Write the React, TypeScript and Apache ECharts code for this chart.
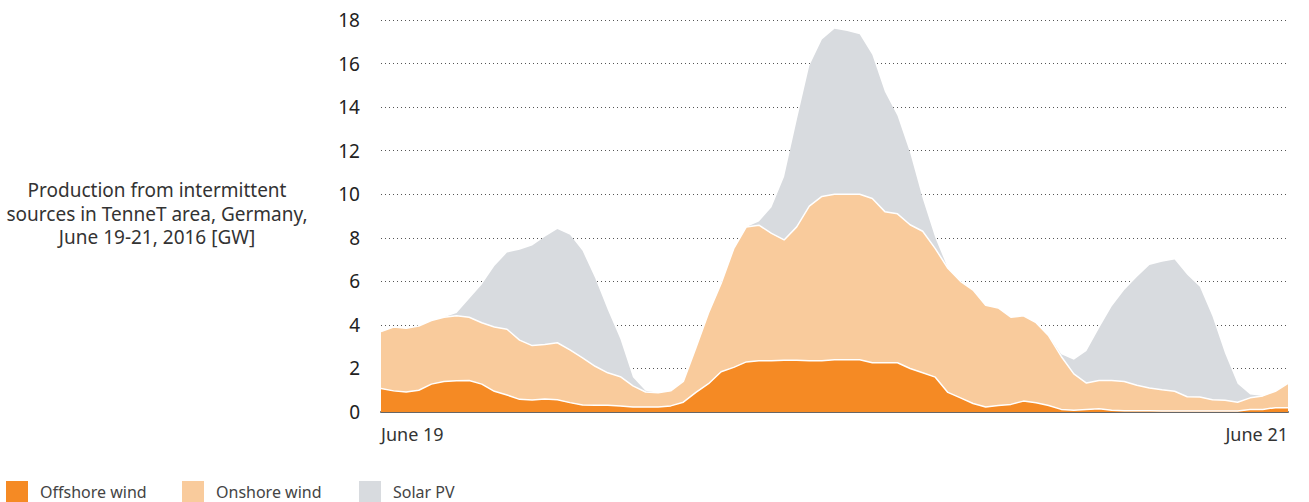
import React, { useEffect, useRef } from "react";
import * as echarts from "echarts";

// Hourly points, June 19 00:00 to June 21 24:00 (73 points)
const hours: string[] = Array.from({ length: 73 }, (_, i) => String(i));

const offshoreWind = [
  1.08, 0.97, 0.92, 1.0, 1.28, 1.4, 1.44, 1.45, 1.28, 0.95, 0.78, 0.58,
  0.55, 0.6, 0.56, 0.43, 0.32, 0.31, 0.31, 0.28, 0.23, 0.23, 0.23, 0.28,
  0.45, 0.9, 1.3, 1.85, 2.05, 2.3, 2.35, 2.35, 2.38, 2.38, 2.35, 2.35,
  2.4, 2.4, 2.4, 2.26, 2.26, 2.26, 2.0, 1.8, 1.6, 0.9, 0.65, 0.39,
  0.23, 0.3, 0.35, 0.5, 0.42, 0.3, 0.12, 0.08, 0.12, 0.15, 0.08, 0.06,
  0.06, 0.06, 0.05, 0.05, 0.05, 0.05, 0.05, 0.05, 0.05, 0.12, 0.12, 0.2,
  0.2,
];

const onshoreWind = [
  2.61, 2.93, 2.93, 2.95, 2.92, 2.95, 2.98, 2.9, 2.82, 2.95, 3.02, 2.72,
  2.5, 2.5, 2.62, 2.42, 2.16, 1.79, 1.49, 1.34, 0.97, 0.69, 0.65, 0.69,
  0.95, 2.05, 3.25, 4.05, 5.45, 6.2, 6.23, 5.85, 5.52, 6.12, 7.1, 7.55,
  7.6, 7.6, 7.6, 7.54, 6.94, 6.84, 6.6, 6.5, 5.9, 5.7, 5.35, 5.21,
  4.67, 4.48, 4.0, 3.92, 3.68, 3.2, 2.43, 1.67, 1.21, 1.3, 1.37, 1.34,
  1.17, 1.04, 0.97, 0.9, 0.65, 0.64, 0.51, 0.49, 0.4, 0.53, 0.62, 0.75,
  1.11,
];

const solarPV = [
  0, 0, 0, 0, 0, 0, 0.13, 0.85, 1.75, 2.8, 3.52, 4.15,
  4.6, 4.95, 5.22, 5.29, 4.92, 4.05, 2.9, 1.73, 0.4, 0.06, 0, 0,
  0, 0, 0, 0, 0, 0, 0.17, 1.2, 2.9, 4.9, 6.45, 7.2,
  7.6, 7.5, 7.35, 6.6, 5.5, 4.5, 3.3, 1.5, 0.5, 0, 0, 0,
  0, 0, 0, 0, 0, 0, 0.1, 0.65, 1.47, 2.4, 3.4, 4.2,
  4.97, 5.65, 5.88, 6.05, 5.6, 5.06, 3.84, 2.16, 0.85, 0.15, 0, 0,
  0,
];

const seriesNames = ["Offshore wind", "Onshore wind", "Solar PV"];
const seriesColors = ["#F58A24", "#F9CB9C", "#D8DBDF"];
const xEndLabels = ["June 19", "June 21"];
const titleLines = [
  "Production from intermittent",
  "sources in TenneT area, Germany,",
  "June 19-21, 2016 [GW]",
];

const FONT = "'Noto Sans', sans-serif";

// legend layout (positions only)
const legendX = [6, 182, 359];

export default function App() {
  const ref = useRef<HTMLDivElement>(null);

  useEffect(() => {
    if (!ref.current) return;
    const chart = echarts.init(ref.current, undefined, { renderer: "svg" });
    const last = hours.length - 1;

    const legendGraphics = seriesNames.flatMap((name, i) => [
      {
        type: "rect",
        shape: { x: legendX[i], y: 481, width: 22, height: 22 },
        style: { fill: seriesColors[i] },
      },
      {
        type: "text",
        x: legendX[i] + 34,
        y: 492,
        style: {
          text: name,
          align: "left",
          verticalAlign: "middle",
          fill: "#444",
          font: `16px ${FONT}`,
        },
      },
    ]);

    const titleGraphics = titleLines.map((t, i) => ({
      type: "text",
      x: 157,
      y: 190 + i * 23.5,
      style: {
        text: t,
        align: "center",
        verticalAlign: "middle",
        fill: "#333",
        font: `19px ${FONT}`,
      },
    }));

    chart.setOption({
      animation: false,
      textStyle: { fontFamily: FONT },
      grid: { left: 381, right: 21, top: 20, bottom: 90, containLabel: false },
      graphic: [...titleGraphics, ...legendGraphics],
      xAxis: {
        type: "category",
        data: hours,
        boundaryGap: false,
        axisLine: { show: true, lineStyle: { color: "#666", width: 2 } },
        axisTick: { show: false },
        splitLine: { show: false },
        axisLabel: {
          interval: (idx: number) => idx === 0 || idx === last,
          formatter: (_v: string, idx: number) =>
            idx === 0 ? xEndLabels[0] : idx === last ? xEndLabels[1] : "",
          alignMinLabel: "left",
          alignMaxLabel: "right",
          color: "#333",
          fontSize: 18,
          margin: 13,
        },
      },
      yAxis: {
        type: "value",
        min: 0,
        max: 18,
        interval: 2,
        axisLine: { show: false },
        axisTick: { show: false },
        axisLabel: { color: "#222", fontSize: 19, margin: 21 },
        splitLine: {
          show: true,
          lineStyle: { color: "#555", width: 1, type: [1, 3] },
        },
      },
      series: [
        {
          name: seriesNames[0],
          type: "line",
          stack: "total",
          data: offshoreWind,
          symbol: "none",
          z: 4,
          lineStyle: { color: "#ffffff", width: 1.5 },
          itemStyle: { color: seriesColors[0] },
          areaStyle: { color: seriesColors[0], opacity: 1 },
        },
        {
          name: seriesNames[1],
          type: "line",
          stack: "total",
          data: onshoreWind,
          symbol: "none",
          z: 3,
          lineStyle: { color: "#ffffff", width: 1.5 },
          itemStyle: { color: seriesColors[1] },
          areaStyle: { color: seriesColors[1], opacity: 1 },
        },
        {
          name: seriesNames[2],
          type: "line",
          stack: "total",
          data: solarPV,
          symbol: "none",
          z: 2,
          lineStyle: { width: 0, color: seriesColors[2] },
          itemStyle: { color: seriesColors[2] },
          areaStyle: { color: seriesColors[2], opacity: 1 },
        },
      ],
    });
    return () => chart.dispose();
  }, []);

  return (
    <div
      ref={ref}
      style={{ position: "absolute", left: 0, top: 0, width: 1309, height: 502 }}
    />
  );
}
